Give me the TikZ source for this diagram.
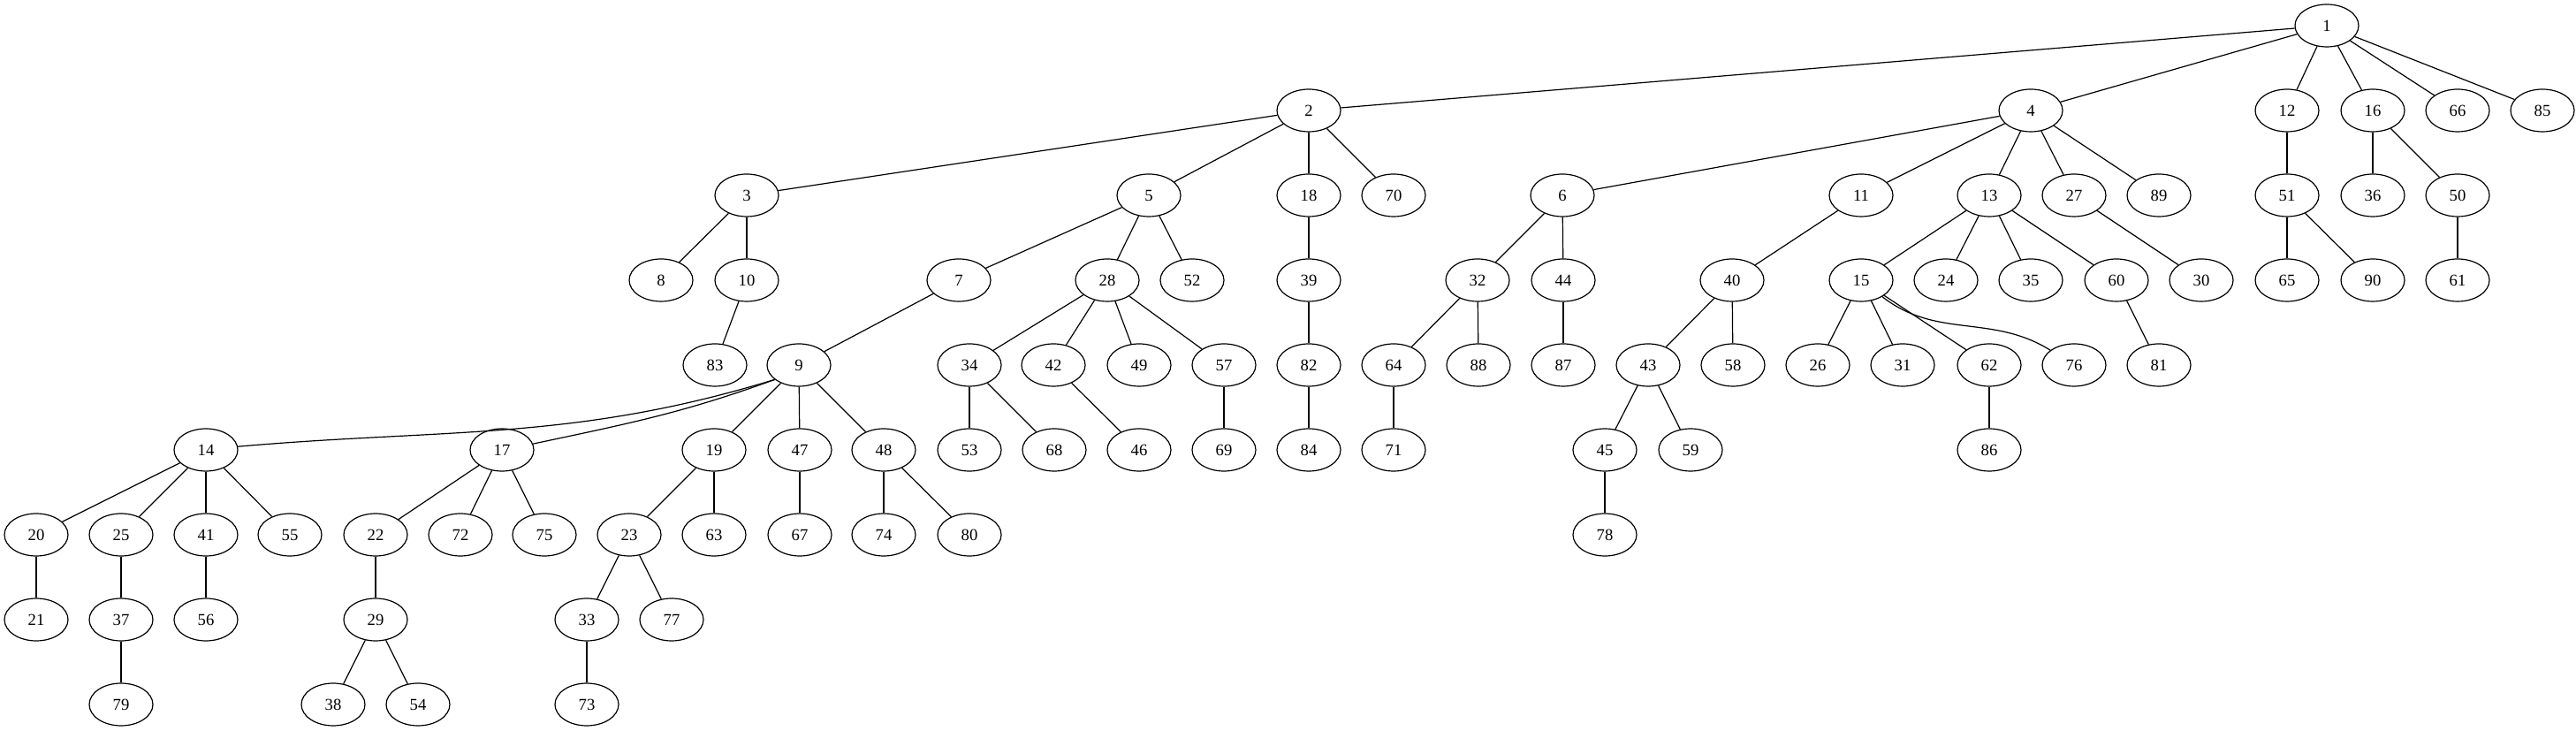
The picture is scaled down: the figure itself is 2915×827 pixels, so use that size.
\documentclass[tikz,border=0pt]{standalone}
\usepackage{fontspec}
\setmainfont{Liberation Serif}
\usetikzlibrary{shapes.geometric}
\begin{document}
\begin{tikzpicture}[x=0.75pt,y=0.75pt,
  nd/.style={draw,ellipse,minimum width=54pt,minimum height=36pt,inner sep=0pt,line width=0.9pt,font=\fontsize{14}{16}\selectfont},
  ed/.style={line width=0.9pt}]
\useasboundingbox (0,0) rectangle (2915,827);
% levels: L0 798, L1 702, L2 606, L3 510, L4 414, L5 318, L6 222, L7 126, L8 30
\foreach \n/\x/\y in {
 1/2633/798,
 2/1481/702, 4/2298/702, 12/2588/702, 16/2685/702, 66/2781/702, 85/2877/702,
 3/845/606, 5/1300/606, 18/1481/606, 70/1577/606, 6/1768/606, 11/2106/606, 13/2251/606, 27/2347/606, 89/2443/606, 51/2588/606, 36/2685/606, 50/2781/606,
 8/748/510, 10/845/510, 7/1085/510, 28/1253/510, 52/1349/510, 39/1481/510, 32/1672/510, 44/1769/510, 40/1960/510, 15/2106/510, 24/2202/510, 35/2298/510, 60/2395/510, 30/2491/510, 65/2588/510, 90/2685/510, 61/2781/510,
 83/809/414, 9/904/414, 34/1097/414, 42/1192/414, 49/1289/414, 57/1385/414, 82/1481/414, 64/1577/414, 88/1673/414, 87/1769/414, 43/1865/414, 58/1961/414, 26/2057/414, 31/2153/414, 62/2251/414, 76/2347/414, 81/2443/414,
 14/233/318, 17/568/318, 19/808/318, 47/905/318, 48/1000/318, 53/1097/318, 68/1193/318, 46/1289/318, 69/1385/318, 84/1481/318, 71/1577/318, 45/1816/318, 59/1913/318, 86/2251/318,
 20/41/222, 25/137/222, 41/233/222, 55/328/222, 22/425/222, 72/521/222, 75/616/222, 23/712/222, 63/808/222, 67/905/222, 74/1000/222, 80/1097/222, 78/1816/222,
 21/41/126, 37/137/126, 56/233/126, 29/425/126, 33/664/126, 77/760/126,
 79/137/30, 38/377/30, 54/473/30, 73/664/30}
 \node[nd] (n\n) at (\x,\y) {\n};
\foreach \a/\b in {
 1/2, 1/4, 1/12, 1/16, 1/66, 1/85,
 2/3, 2/5, 2/18, 2/70,
 4/6, 4/11, 4/13, 4/27, 4/89,
 12/51, 16/36, 16/50,
 3/8, 3/10, 5/7, 5/28, 5/52, 18/39, 6/32, 6/44, 11/40,
 13/15, 13/24, 13/35, 13/60, 27/30, 51/65, 51/90, 50/61,
 10/83, 7/9, 28/34, 28/42, 28/49, 28/57, 39/82, 32/64, 32/88, 44/87,
 40/43, 40/58, 15/26, 15/31, 15/62, 60/81,
 9/19, 9/47, 9/48, 34/53, 34/68, 42/46, 57/69, 82/84, 64/71,
 43/45, 43/59, 62/86,
 14/20, 14/25, 14/41, 14/55, 17/22, 17/72, 17/75, 19/23, 19/63, 47/67, 48/74, 48/80,
 22/29, 23/33, 23/77, 25/37, 20/21, 41/56,
 29/38, 29/54, 33/73, 37/79, 45/78}
 \draw[ed] (n\a) -- (n\b);
\draw[ed] (n9.211) to[out=197,in=5] (n14.6);
\draw[ed] (n9.211) to[out=200,in=12] (n17.11);
\draw[ed] (n15) to[out=-38,in=148] (n76);
\end{tikzpicture}
\end{document}
